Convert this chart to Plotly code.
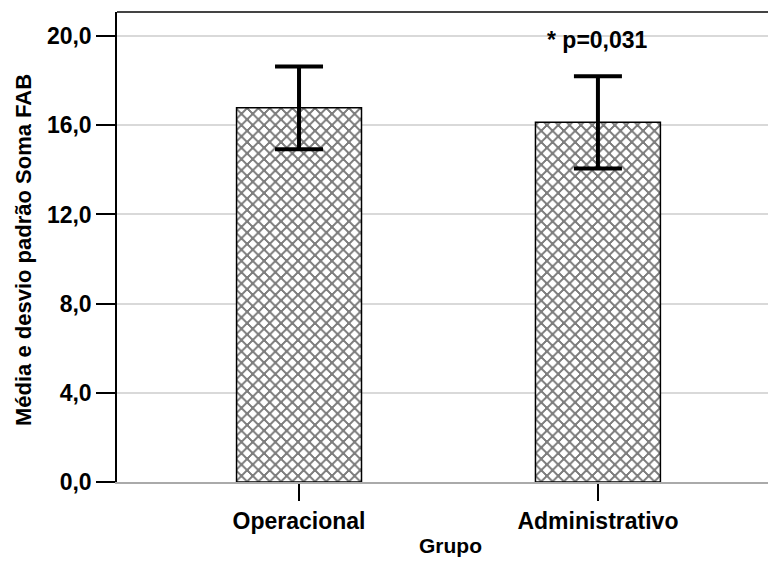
import plotly.graph_objects as go

categories = ["Operacional", "Administrativo"]
means = [16.78, 16.13]
sds = [1.86, 2.07]
y_tick_vals = [0, 4, 8, 12, 16, 20]
y_tick_text = ["0,0", "4,0", "8,0", "12,0", "16,0", "20,0"]
annotation_text = "* p=0,031"

FONT = "Liberation Sans, Arial, Helvetica, sans-serif"

fig = go.Figure()
fig.add_trace(go.Bar(
    x=[0, 1], y=means, width=0.418,
    marker=dict(color="white",
                line=dict(color="black", width=1.5),
                pattern=dict(shape="x", fgcolor="black", bgcolor="white",
                             size=8, solidity=0.45, fillmode="overlay")),
    error_y=dict(type="data", array=sds, visible=True, color="black",
                 thickness=4, width=24),
    showlegend=False,
))

fig.update_layout(
    width=768, height=561,
    margin=dict(l=117, r=0, t=12, b=79),
    plot_bgcolor="white", paper_bgcolor="white",
    font=dict(family=FONT, size=23, color="black", weight="bold"),
    xaxis=dict(range=[-0.609, 1.569], tickvals=[0, 1], ticktext=categories,
               ticks="outside", ticklen=17, tickwidth=1.5, tickcolor="black",
               showline=True, linecolor="#aaaaaa", linewidth=2,
               showgrid=False, zeroline=False,
               tickfont=dict(family=FONT, size=23, weight="bold")),
    yaxis=dict(range=[0, 21.08], tickvals=y_tick_vals, ticktext=y_tick_text,
               ticks="outside", ticklen=19, tickwidth=1.5, tickcolor="black",
               showline=True, linecolor="black", linewidth=1.5,
               showgrid=True, gridcolor="#d9d9d9", gridwidth=1.5,
               zeroline=False,
               tickfont=dict(family=FONT, size=23, weight="bold")),
    shapes=[dict(type="line", xref="paper", yref="paper", x0=0, x1=1, y0=1, y1=1,
                 line=dict(color="#444444", width=2))],
    annotations=[
        dict(text=annotation_text, x=1, y=19.82, xref="x", yref="y",
             showarrow=False, xanchor="center", yanchor="middle",
             font=dict(family=FONT, size=23, weight="bold")),
        dict(text="Média e desvio padrão Soma FAB", textangle=-90,
             x=-0.1444, y=0.4936, xref="paper", yref="paper",
             showarrow=False, xanchor="center", yanchor="middle",
             font=dict(family=FONT, size=22, weight="bold")),
        dict(text="Grupo", x=0.513, y=-0.136, xref="paper", yref="paper",
             showarrow=False, xanchor="center", yanchor="middle",
             font=dict(family=FONT, size=21, weight="bold")),
    ],
)

fig.write_html(
    "out.html", config={"displayModeBar": False},
    post_script=(
        "document.body.style.margin='0';document.body.style.overflow='hidden';"
        "document.querySelectorAll('pattern path').forEach(function(p){"
        "p.setAttribute('shape-rendering','crispEdges');});"
    ),
)
